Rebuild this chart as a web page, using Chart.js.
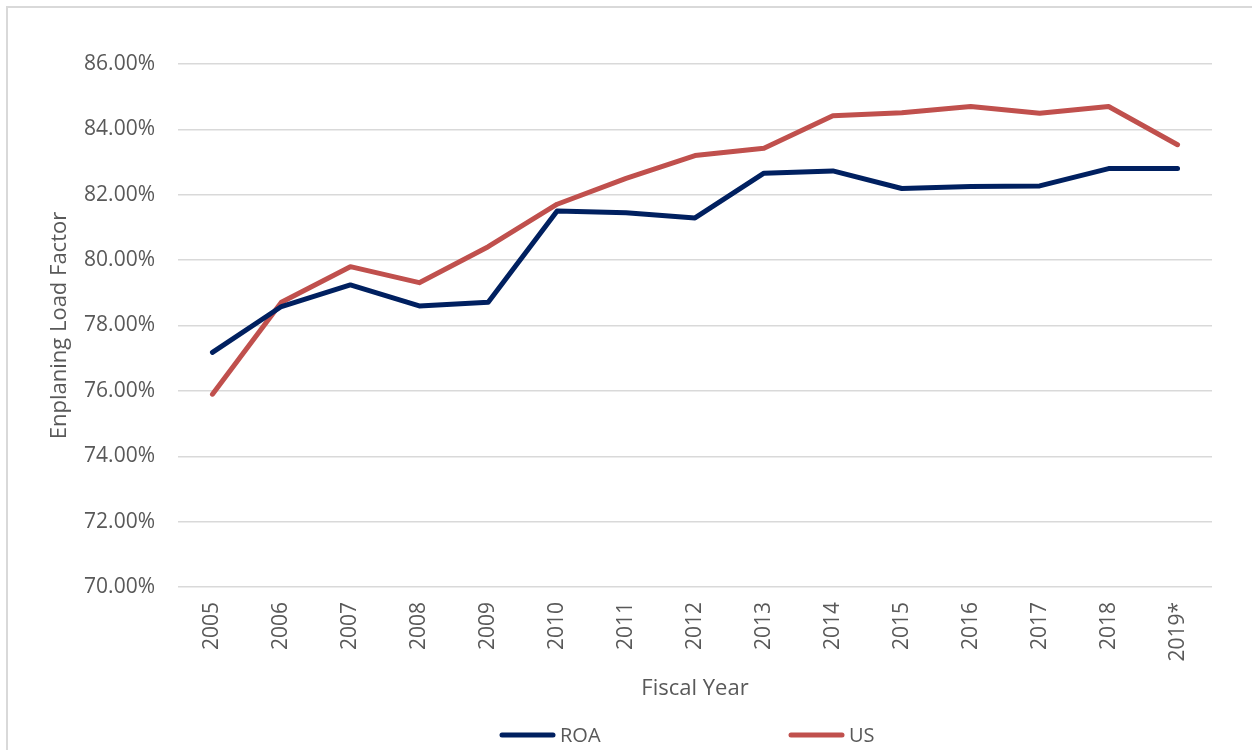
<!DOCTYPE html>
<html>
<head>
<meta charset="utf-8">
<script src="https://cdn.jsdelivr.net/npm/chart.js@4/dist/chart.umd.min.js"></script>
<style>
  html, body { margin: 0; padding: 0; background: #ffffff; }
  #wrap { position: relative; width: 1252px; height: 750px; overflow: hidden; }
  #frame { position: absolute; left: 6px; top: 6px; width: 1400px; height: 900px;
           border-top: 2px solid #d9d9d9; border-left: 2px solid #d9d9d9; pointer-events: none; }
  canvas { position: absolute; left: 0; top: 0; }
</style>
</head>
<body>
<div id="wrap">
  <canvas id="chart" width="1252" height="750"></canvas>
  <div id="frame"></div>
</div>
<script>
// Fiscal years on the category axis
const years = ['2005', '2006', '2007', '2008', '2009', '2010', '2011', '2012',
               '2013', '2014', '2015', '2016', '2017', '2018', '2019*'];

// Enplaning load factor, percent
const roaLoadFactor = [77.18, 78.58, 79.24, 78.60, 78.71, 81.50, 81.45, 81.29,
                       82.66, 82.73, 82.19, 82.25, 82.27, 82.80, 82.80];
const usLoadFactor  = [75.90, 78.71, 79.80, 79.31, 80.41, 81.71, 82.50, 83.20,
                       83.42, 84.42, 84.51, 84.70, 84.49, 84.70, 83.53];

// Value axis range and step, percent
const yMin = 70;
const yMax = 86;
const yStep = 2;

const seriesNames = ['ROA', 'US'];
const seriesColors = ['#002060', '#C0504D'];

const FONT = '"Open Sans", "DejaVu Sans", sans-serif';
const TEXT = '#595959';
const GRID = '#d9d9d9';

// Legend row below the axis title: a short line swatch and the series name
const lineLegend = {
  id: 'lineLegend',
  afterDraw(chart) {
    const ctx = chart.ctx;
    const y = 735;
    const startX = 500;
    const itemGap = 289;
    const swatch = 55;
    ctx.save();
    ctx.font = '20px ' + FONT;
    ctx.textBaseline = 'middle';
    ctx.textAlign = 'left';
    chart.data.datasets.forEach((ds, i) => {
      const x = startX + i * itemGap;
      ctx.strokeStyle = ds.borderColor;
      ctx.lineWidth = ds.borderWidth;
      ctx.lineCap = 'round';
      ctx.beginPath();
      ctx.moveTo(x + 2, y);
      ctx.lineTo(x + swatch - 2, y);
      ctx.stroke();
      ctx.fillStyle = TEXT;
      ctx.fillText(ds.label, x + swatch + 5, y + 1);
    });
    ctx.restore();
  }
};

new Chart(document.getElementById('chart'), {
  type: 'line',
  data: {
    labels: years,
    datasets: [
      { label: seriesNames[0], data: roaLoadFactor, borderColor: seriesColors[0],
        backgroundColor: seriesColors[0], borderWidth: 5, pointRadius: 0,
        borderCapStyle: 'round', borderJoinStyle: 'round', tension: 0, fill: false },
      { label: seriesNames[1], data: usLoadFactor, borderColor: seriesColors[1],
        backgroundColor: seriesColors[1], borderWidth: 5, pointRadius: 0,
        borderCapStyle: 'round', borderJoinStyle: 'round', tension: 0, fill: false }
    ]
  },
  options: {
    responsive: false,
    animation: false,
    devicePixelRatio: 1,
    layout: { padding: { left: 47, right: 40, top: 64, bottom: 48 } },
    plugins: {
      legend: { display: false },
      tooltip: { enabled: false }
    },
    scales: {
      x: {
        offset: true,
        grid: { display: false, drawTicks: false },
        border: { display: false },
        ticks: {
          color: TEXT, font: { family: FONT, size: 21 },
          minRotation: 90, maxRotation: 90, padding: 15, autoSkip: false
        },
        title: {
          display: true, text: 'Fiscal Year', color: TEXT,
          font: { family: FONT, size: 22 }, padding: 0
        },
        afterFit(scale) { scale.height = 115; }
      },
      y: {
        min: yMin, max: yMax,
        grid: { color: GRID, lineWidth: 1.5, drawTicks: false },
        border: { display: false },
        ticks: {
          stepSize: yStep, color: TEXT, font: { family: FONT, size: 21 }, padding: 23,
          callback: (v) => v.toFixed(2) + '%'
        },
        title: {
          display: true, text: 'Enplaning Load Factor', color: TEXT,
          font: { family: FONT, size: 22 }, padding: 0
        },
        afterFit(scale) { scale.width = 131; }
      }
    }
  },
  plugins: [lineLegend]
});
</script>
</body>
</html>
